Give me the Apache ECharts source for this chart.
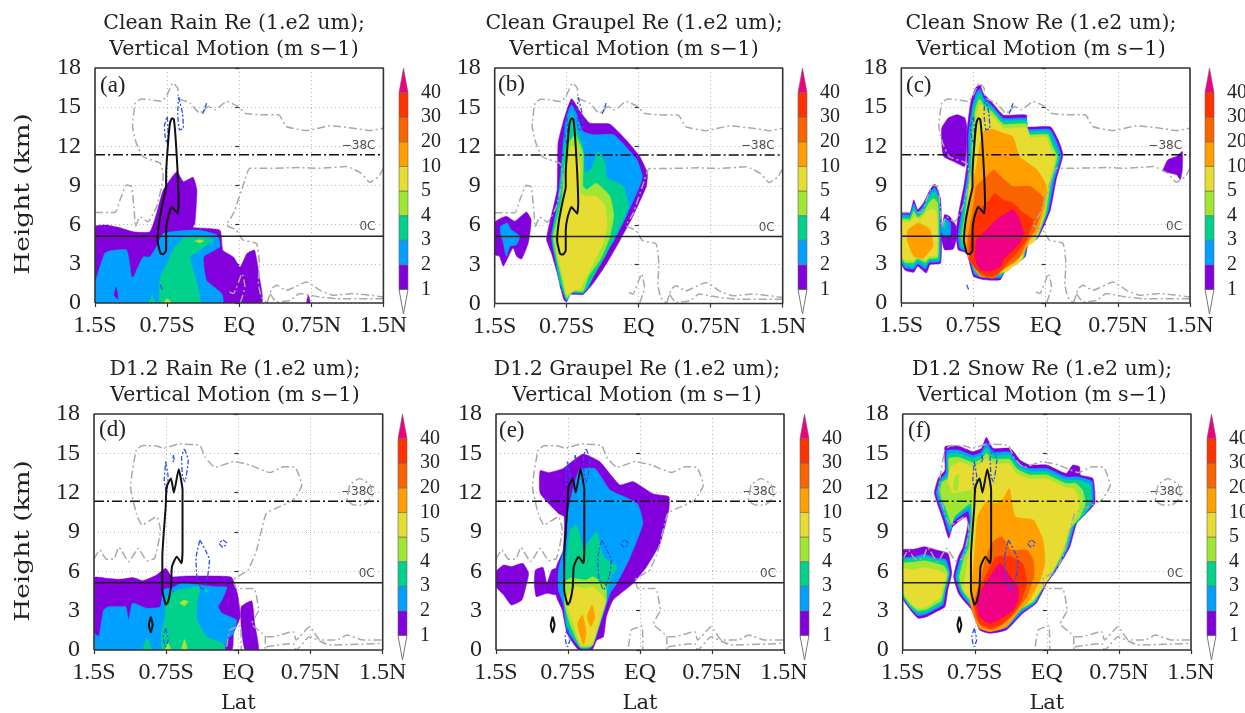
<!DOCTYPE html>
<html><head><meta charset="utf-8">
<style>html,body{margin:0;padding:0;background:#fff}#main{width:1245px;height:713px;filter:blur(0.35px)}</style>
<script src="https://cdn.jsdelivr.net/npm/echarts@6/dist/echarts.min.js"></script>
</head><body><div id="main"></div>
<script>
const latTicks=['1.5S','0.75S','EQ','0.75N','1.5N'];
const barLevels=['','1','2','3','4','5','10','20','30','40',''];
const levelColors=['#ffffff','#8200dc','#00a0ff','#00d28c','#a0e632','#e6dc32','#ffa000','#fa6400','#ff3200','#f00082'];
const titles=['Clean Rain Re (1.e2 um);','Clean Graupel Re (1.e2 um);','Clean Snow Re (1.e2 um);','D1.2 Rain Re (1.e2 um);','D1.2 Graupel Re (1.e2 um);','D1.2 Snow Re (1.e2 um);'];
const subtitle='Vertical Motion (m s−1)';
const tags=['(a)','(b)','(c)','(d)','(e)','(f)'];
const isoCold=11.35, isoZero=5.12;

// Cloud outline (latitude, km), upper row
const cloudTop=[[-1.5,6.94,-1.29,6.94,-1.24,7.89,-1.17,9.04,-1.12,8.91,-1.09,6.86,-1.08,5.84,-1.03,6.6,-.95,6.22,-.86,7.37,-.79,9.68,-.82,10.7,-1,11.2,-1.07,12.24,-1.11,13.52,-1.08,15.31,-1.02,15.62,-.93,15.57,-.81,15.44,-.75,15.95,-.69,16.85,-.64,16.46,-.63,15.69,-.51,15.31,-.41,14.54,-.32,15.05,-.25,14.8,-.13,15.44,-.01,15.05,.06,14.54,.25,14.41,.41,14.41,.49,13.52,.7,13.21,.95,13.57,1.19,13.39,1.36,13.21,1.5,13.39],
[1.5,10.32,1.45,9.68,1.36,9.24,1.27,9.93,1.12,10.45,.84,10.32,.63,10.37,.29,10.32,.11,10.32,.06,9.42,-.06,6.86,-.13,5.97,-.03,5.58,.04,4.81,.18,4.56,.21,3.02,.2,1.48,.23,.46,.29,0],
[.29,0,.34,1.1,.39,1.36,.49,.97,.7,1.61,.84,.97,.98,.59,1.19,.72,1.5,.46],
[.32,.72,.39,.08,.53,.2,.63,.72,.84,.46,1.01,.33,1.5,.33],
[-.1,.84,-.06,.72,.03,2.25,.06,1.23,.01,0]];
// Cloud outline, lower row
const cloudBottom=[[-1.5,6.92,-1.44,7.63,-1.37,6.92,-1.29,6.99,-1.24,7.83,-1.14,6.74,-1.04,7.75,-.95,6.81,-.87,6.99,-.81,9.15,-.85,10.17,-1,9.53,-1.06,10.42,-1.12,12.46,-1.06,15.26,-.99,15.59,-.85,15.56,-.78,15.38,-.62,15.71,-.4,15.59,-.35,14.75,-.24,13.93,-.05,14.37,.12,14.11,.33,13.53,.47,13.98,.59,13.93,.66,12.59,.57,11.44,.43,10.93,.29,10.42,.19,7.63,.1,6.1,-.05,5.34,-.02,4.7,.16,4.7,.21,3.05,.14,2,.28,1,.28,0],
[.29,1.02,.36,1.02,.57,1.4,.6,.76,.74,1.78,.85,.76,1.02,.76,1.13,1.14,1.3,.76,1.5,.76],
[.29,.25,.57,.5,.6,0,.64,.25,.74,1.02,.95,.38,1.5,.5],
[-.12,.25,-.09,1.53,.02,1.83,.03,0],
[1.14,11.95,1.16,12.59,1.26,13.09,1.37,12.59,1.39,11.7,1.3,11.06,1.2,11.06,1.13,11.44,1.14,11.95]];
// Updraft contour, black
const upTop=[[-.82,3.79,-.85,4.81,-.83,6.35,-.79,7.89,-.76,8.91,-.76,9.93,-.74,12.24,-.72,13.77,-.7,14.16,-.68,14.08,-.66,12.49,-.64,9.93,-.63,7.63,-.64,6.86,-.67,7.12,-.7,7.37,-.74,6.61,-.76,5.58,-.76,4.05,-.79,3.74,-.82,3.79]];
const upBottom=[[-.755,3.43,-.79,4.58,-.79,7.12,-.755,10.93,-.745,12.46,-.7,13.09,-.67,12,-.62,13.78,-.58,12.2,-.58,7.63,-.59,6.61,-.64,7.12,-.69,6.36,-.7,4.83,-.73,3.69,-.755,3.43],
[-.91,2.54,-.89,1.91,-.91,1.35,-.93,1.91,-.91,2.54]];
// Downdraft contour, blue
const downTop=[[-.78,13.52,-.75,14.29,-.74,13,-.75,12.19,-.77,12.75,-.78,13.52],
[-.63,15.77,-.59,14.54,-.58,13.39,-.62,13.26,-.64,14.54,-.63,15.77],
[-.38,14.49,-.34,15.31,-.36,14.8,-.38,14.49],
[-.82,1.4,-.8,1.0]];
const downBottom=[[-.755,14.37,-.73,13.22,-.745,11.95,-.77,12.97,-.755,14.37],
[-.675,14.87,-.665,14.37,-.68,14.4,-.675,14.87],
[-.56,15.33,-.52,14.49,-.555,12.84,-.58,13.22,-.59,14.75,-.56,15.33],
[-.4,8.39,-.3,6.86,-.32,5.59,-.38,4.58,-.43,5.59,-.44,6.99,-.4,8.39],
[-.16,8.39,-.12,8.14,-.16,7.83,-.2,8.14,-.16,8.39],
[-.755,1.65,-.73,.76,-.76,.25,-.78,1.02,-.755,1.65]];

// Filled contours: [level, lat, km, lat, km ...]
const fillsA=[
[1,-1.5,5.84,-1.38,5.97,-1.24,5.76,-1.1,5.45,-.93,5.45,-.86,6.86,-.79,8.65,-.65,10.06,-.58,9.3,-.48,9.63,-.44,8.65,-.46,6.1,-.48,5.79,-.2,5.58,-.17,4.05,-.06,3.53,.01,2.76,.08,3.79,.16,4.05,.21,2,.23,0,-1.5,0],
[1,.7,0,.72,.6,.74,0],
[2,-1.5,0,-1.5,1.48,-1.4,3.79,-1.34,4,-1.17,4.05,-1.12,2,-1.1,2,-1,3.53,-.93,3.53,-.86,4.3,-.79,5.32,-.61,5.53,-.41,5.58,-.23,5.2,-.2,4.3,-.37,3.53,-.34,1.74,-.18,.72,-.17,0],
[1,-1.28,1.2,-1.26,.3,-1.3,.6],
[3,-.82,0,-.82,2,-.75,3.02,-.69,4.05,-.58,4.94,-.37,5.02,-.27,4.81,-.41,4.05,-.51,3.53,-.44,1.48,-.41,0],
[3,-.93,0,-.91,.6,-.87,0],
[4,-.79,0,-.75,.33,-.7,0],
[4,-.46,4.75,-.41,4.85,-.37,4.75,-.41,4.6]];
const fillsB=[
[1,-1.5,6.21,-1.38,6.67,-1.29,6.29,-1.17,7,-1.12,6.41,-1.15,4.63,-1.22,3.4,-1.27,3.6,-1.31,4.25,-1.41,2.85,-1.45,3.6,-1.5,3.74],
[2,-1.44,5.9,-1.37,6.16,-1.33,5.65,-1.24,5.14,-1.27,4.5,-1.34,4.38,-1.38,3.6,-1.41,4.63,-1.44,5.39],
[1,-.96,4.89,-.92,6.41,-.85,8.7,-.84,12.26,-.78,14.05,-.7,15.65,-.61,14.68,-.51,13.79,-.3,13.71,-.13,12.5,.01,11.25,.09,9.97,.08,8.96,-.06,6.67,-.19,4.89,-.33,3.1,-.47,1.58,-.58,.69,-.72,.69,-.75,.1,-.78,.3,-.85,2.34,-.91,3.87],
[2,-.91,5.14,-.85,7.43,-.8,11,-.78,12.77,-.75,14.3,-.7,15.2,-.65,14.55,-.58,13.15,-.47,12.9,-.26,12.9,-.02,11,.04,9.7,.01,8.96,-.13,6.67,-.25,4.89,-.41,3.1,-.52,1.3,-.58,.8,-.7,.8,-.75,.18,-.82,1.58,-.87,3.36],
[3,-.9,5.14,-.83,7.94,-.79,11,-.75,13.03,-.7,14.55,-.63,12.98,-.58,12,-.56,9.97,-.49,10.35,-.42,11.6,-.35,10.73,-.33,9.59,-.16,8.96,-.11,7.43,-.16,6.41,-.23,5.39,-.35,3.6,-.51,1.6,-.58,.8,-.7,.85,-.75,.3,-.82,1.7,-.86,3.36],
[4,-.89,5.14,-.8,7.94,-.77,10.48,-.73,12.26,-.68,12.77,-.65,12.77,-.58,11.5,-.58,8.96,-.54,8.7,-.44,9.2,-.3,8.2,-.26,6.67,-.31,4.89,-.4,3.36,-.52,2.1,-.58,.94,-.68,.94,-.75,.43,-.8,1.83,-.85,3.36],
[5,-.85,5.14,-.79,7.94,-.75,10.48,-.7,12,-.66,12,-.61,10.48,-.61,8.45,-.54,8.2,-.44,8.2,-.35,7.43,-.33,5.9,-.37,4.63,-.47,3.1,-.58,1.58,-.61,1.07,-.66,1.07,-.75,.69,-.79,2.09,-.84,3.6]];
const fillsC=[
[1,-1.5,6.89,-1.41,6.89,-1.37,7.9,-1.33,7.15,-1.27,7.66,-1.2,8.69,-1.15,9.11,-1.09,7.9,-1.09,3.06,-1.2,2.94,-1.24,2.3,-1.33,2.81,-1.37,2.35,-1.46,2.5,-1.5,3.06],
[2,-1.5,6.75,-1.41,6.75,-1.37,7.6,-1.33,6.95,-1.27,7.45,-1.21,8.4,-1.15,8.85,-1.1,7.9,-1.1,3.2,-1.21,3.1,-1.25,2.6,-1.33,3,-1.37,2.6,-1.46,2.7,-1.5,3.2],
[3,-1.5,6.55,-1.41,6.55,-1.37,7.3,-1.33,6.75,-1.27,7.2,-1.21,8.1,-1.15,8.5,-1.11,7.8,-1.11,3.35,-1.21,3.25,-1.25,2.85,-1.33,3.2,-1.37,2.85,-1.46,2.9,-1.5,3.35],
[4,-1.5,6.4,-1.41,6.4,-1.37,7,-1.33,6.55,-1.27,6.9,-1.21,7.7,-1.16,8,-1.12,7.6,-1.12,3.5,-1.21,3.4,-1.25,3.1,-1.33,3.4,-1.37,3.1,-1.46,3.1,-1.5,3.5],
[5,-1.5,6.2,-1.41,6.2,-1.36,6.6,-1.3,6.4,-1.24,7,-1.17,7.2,-1.13,6.8,-1.13,3.6,-1.21,3.6,-1.25,3.3,-1.33,3.6,-1.37,3.3,-1.46,3.3,-1.5,3.7],
[6,-1.43,5.6,-1.32,6.13,-1.2,5.6,-1.17,4.34,-1.27,3.45,-1.37,3.57,-1.44,4.85],
[1,-1.08,5.36,-1.05,6.77,-1,6.64,-.93,5.87,-.93,4.85,-.96,4.14,-1.05,4.08,-1.08,4.85],
[2,-1.09,5.6,-1.05,6.5,-.99,6.13,-.99,5.23,-1.05,5.05],
[3,-1.07,6,-1.05,6.3,-1.03,6,-1.05,5.6],
[1,-1.08,13.4,-1.01,14.18,-.92,14.42,-.84,14.18,-.82,13.53,-.84,10.47,-.96,10.85,-1.06,11.23,-1.08,12.25],
[1,-.93,5.36,-.91,6.64,-.85,8.94,-.82,10.47,-.82,13,-.78,15.32,-.73,16.47,-.68,16.7,-.65,16.1,-.55,15.3,-.44,14.4,-.2,14.4,-.2,13.5,.05,13.5,.13,12.5,.18,11.36,.11,9.45,.05,7.15,-.02,5.87,-.08,5,-.18,4.6,-.21,3.57,-.3,3.06,-.4,2.81,-.47,1.79,-.65,1.79,-.75,2.04,-.82,3.83,-.91,4.08],
[2,-.91,5.2,-.88,6.6,-.83,8.9,-.8,10.5,-.8,12.9,-.76,15.1,-.72,16.1,-.68,16.4,-.65,15.8,-.55,15.05,-.44,14.15,-.2,14.15,-.19,13.3,.04,13.3,.11,12.4,.16,11.3,.09,9.4,.03,7.1,-.04,5.8,-.09,4.9,-.19,4.5,-.22,3.5,-.31,3,-.4,2.7,-.47,1.95,-.65,1.95,-.74,2.2,-.81,3.9,-.89,4.2],
[3,-.89,5.2,-.86,6.6,-.81,8.9,-.79,10.5,-.78,12.9,-.75,15,-.71,15.8,-.68,16,-.65,15.5,-.55,14.85,-.44,13.95,-.2,13.95,-.18,13.1,.03,13.1,.09,12.2,.14,11.25,.07,9.3,.02,7,-.05,5.7,-.1,4.9,-.2,4.4,-.23,3.45,-.32,2.9,-.4,2.6,-.47,2.1,-.65,2.1,-.74,2.4,-.8,4,-.87,4.3],
[4,-.87,5.2,-.84,6.6,-.8,8.9,-.77,10.5,-.76,12.9,-.73,14.8,-.7,15.5,-.68,15.6,-.65,15.2,-.55,14.6,-.44,13.7,-.2,13.7,-.17,12.9,.02,12.9,.07,12,.12,11.2,.05,9.2,0,6.9,-.06,5.6,-.11,4.8,-.21,4.3,-.24,3.4,-.33,2.85,-.4,2.5,-.47,2.25,-.65,2.25,-.73,2.55,-.79,4.1,-.85,4.4],
[5,-.85,5.2,-.82,6.6,-.79,8.9,-.75,10.5,-.74,12.7,-.71,14.6,-.69,15.1,-.67,15.2,-.65,14.9,-.55,14.3,-.44,13.4,-.2,13.4,-.16,12.7,0,12.7,.05,11.8,.1,11.15,.03,9.1,-.02,6.8,-.07,5.5,-.12,4.7,-.22,4.2,-.25,3.3,-.34,2.8,-.4,2.4,-.47,2.4,-.65,2.4,-.72,2.7,-.78,4.2,-.83,4.5],
[6,-.84,5.36,-.79,7.9,-.72,10.47,-.68,12.25,-.63,13.28,-.54,13.28,-.44,13,-.34,12.74,-.27,11.2,-.09,10.2,.01,8.94,-.01,7.4,-.09,5.36,-.16,4.85,-.23,3.83,-.32,3.06,-.4,2.8,-.54,2.04,-.68,2.04,-.77,3.06,-.82,3.83],
[7,-.81,4.85,-.75,7.4,-.72,8.94,-.61,9.7,-.54,10.2,-.47,9.7,-.34,8.94,-.16,8.94,-.02,8.04,-.06,6.64,-.11,5.62,-.2,4.6,-.27,3.57,-.35,3.06,-.44,2.55,-.54,1.9,-.68,2.15,-.75,3.06,-.81,3.96],
[8,-.79,4.34,-.75,5.87,-.72,6.9,-.58,7.9,-.53,8.4,-.44,7.9,-.34,7.66,-.23,6.9,-.13,6.38,-.16,5.62,-.2,4.85,-.3,3.83,-.4,3.06,-.51,2.17,-.61,2.04,-.72,2.55,-.79,3.32],
[9,-.73,3.32,-.72,4.85,-.61,5.62,-.51,6.38,-.34,7.15,-.27,6.38,-.23,5.36,-.27,4.6,-.37,3.83,-.44,3.32,-.47,2.81,-.58,2.43,-.68,2.55],
[1,1.22,10.2,1.27,10.98,1.36,11.23,1.42,11.6,1.42,10.2,1.4,9.45,1.36,9.83,1.22,10.08]];
const fillsD=[
[1,-1.5,5.52,-1.37,5.47,-1.23,5.39,-1.09,5.52,-.99,5.29,-.85,5.72,-.755,6.23,-.69,5.59,-.54,5.64,-.26,5.64,-.07,5.54,-.01,4.32,.02,2.54,-.05,1.27,-.07,0,-1.5,0],
[1,.03,3.3,.14,3.74,.17,2.03,.21,0,.07,0,.03,1.78],
[2,-1.5,0,-1.5,1.27,-1.45,1.02,-1.4,3.05,-1.35,3.3,-1.26,3.3,-1.17,3.3,-1.14,2.29,-1.1,3.56,-.95,3.18,-.81,3.3,-.78,4.58,-.68,4.78,-.59,5.09,-.23,4.83,-.12,4.78,-.17,3.81,-.21,3.3,-.17,2.8,-.02,2.29,-.05,1.27,-.12,.76,-.15,0],
[3,-.78,0,-.8,1.27,-.76,2.54,-.745,4.07,-.61,4.58,-.4,4.83,-.43,3.56,-.43,2.29,-.33,1.02,-.16,.51,-.14,0],
[3,-.99,0,-.95,.89,-.9,0],
[3,-.33,4.7,-.31,4.5,-.33,4.35,-.35,4.5],
[4,-.61,3.6,-.56,3.81,-.52,3.69,-.56,3.36],
[4,-.59,0,-.56,.81,-.53,0],
[4,-.76,0,-.73,.5,-.7,0]];
const fillsE=[
[1,-1.5,5.98,-1.42,6.48,-1.34,6.36,-1.22,6.61,-1.16,5.85,-1.18,5.09,-1.23,3.81,-1.34,3.43,-1.42,4.2,-1.5,4.83],
[1,-1.09,6.1,-1.01,6.3,-.97,5.09,-.92,6.1,-.87,6.23,-.85,4.2,-.97,4.32,-1.08,4.07,-1.1,5.09],
[1,-1.04,13.68,-.95,13.53,-.8,13.85,-.69,14.49,-.59,14.95,-.42,14.37,-.21,12.59,-.07,12.84,.14,11.9,.3,11.7,.3,10.68,.21,8.14,.07,6.36,-.07,5.09,-.28,3.81,-.35,2.54,-.38,1.02,-.45,.76,-.5,0,-.64,0,-.76,1.27,-.81,3.05,-.87,4.07,-.87,6.36,-.8,7.63,-.79,10.17,-.85,10.42,-1.04,11.95],
[2,-.76,10.17,-.7,12.2,-.63,13.73,-.47,13.85,-.31,12.2,-.03,11.19,.03,9.66,-.1,7.12,-.24,5.09,-.31,4.32,-.38,2.8,-.47,.76,-.52,.13,-.62,.13,-.76,1.53,-.8,3.56,-.85,4.58,-.85,6.1,-.76,8.65],
[3,-.78,5.59,-.76,7.12,-.73,9.15,-.66,9.53,-.59,7.76,-.52,8.4,-.45,9.03,-.38,7.12,-.24,6.36,-.3,5.59,-.35,4.32,-.42,2.54,-.49,.51,-.52,.18,-.62,.18,-.75,1.78,-.78,3.56],
[4,-.79,5.09,-.73,5.47,-.56,5.34,-.49,5.59,-.36,4.83,-.35,3.81,-.42,2.03,-.49,.38,-.52,.25,-.62,.25,-.73,2.03,-.78,3.3],
[5,-.76,4.07,-.69,4.83,-.56,4.7,-.49,4.83,-.4,4.2,-.36,3.69,-.42,2.29,-.49,.64,-.53,.38,-.61,.38,-.71,2.29,-.76,3.3],
[6,-.5,3.43,-.47,2.54,-.51,1.78,-.55,2.54],
[6,-.6,2.67,-.56,1.27,-.59,.38,-.64,1.53,-.65,2.03]];
const fillsF=[
[1,-1.5,7.63,-1.39,7.68,-1.27,7.88,-1.15,7.63,-1.03,7.37,-.99,5.85,-1.03,4.58,-1.06,3.3,-1.15,2.92,-1.25,2.54,-1.34,2.42,-1.42,3.05,-1.5,3.94],
[2,-1.5,7,-1.39,7.1,-1.27,7.3,-1.15,7,-1.05,6.9,-1.01,5.85,-1.05,4.6,-1.08,3.45,-1.16,3.1,-1.25,2.75,-1.34,2.62,-1.42,3.2,-1.5,4.1],
[3,-1.5,6.85,-1.39,6.95,-1.27,7.1,-1.15,6.85,-1.06,6.7,-1.02,5.85,-1.06,4.6,-1.09,3.6,-1.16,3.25,-1.25,2.9,-1.34,2.8,-1.42,3.3,-1.5,4.2],
[4,-1.5,6.6,-1.39,6.7,-1.27,6.8,-1.15,6.6,-1.07,6.4,-1.03,5.85,-1.07,4.6,-1.1,3.75,-1.17,3.45,-1.25,3.1,-1.34,3,-1.42,3.45,-1.5,4.3],
[5,-1.5,6.2,-1.39,6.1,-1.27,6.3,-1.15,6.1,-1.08,5.9,-1.05,5.7,-1.09,4.6,-1.12,3.9,-1.18,3.7,-1.25,3.3,-1.34,3.2,-1.42,3.65,-1.5,4.5],
[1,-.97,5.59,-.92,7.12,-.87,7.88,-.82,9.66,-.84,10.17,-.98,9.4,-1.02,8.52,-1.08,9.92,-1.17,11.95,-1.13,13.1,-1.06,13.73,-1.06,15.51,-.92,15.56,-.77,15.13,-.68,15.38,-.63,16.22,-.56,15.38,-.38,15.38,-.28,14.49,-.18,14.11,0,14.11,.2,13.47,.27,14.11,.34,13.98,.35,13.35,.48,13.09,.5,11.19,.41,10.42,.31,9.66,.24,7.88,.1,6.1,0,5.09,-.11,3.56,-.25,2.8,-.42,1.53,-.59,1.27,-.7,1.53,-.78,3.05,-.87,3.81,-.92,4.32],
[2,-.95,5.59,-.9,7,-.85,7.9,-.8,9.8,-.82,10.6,-.98,9.75,-1.01,8.9,-1.07,10.2,-1.15,11.95,-1.11,13,-1.05,13.5,-1.04,15.2,-.92,15.25,-.77,14.85,-.68,15.1,-.63,15.8,-.56,15.1,-.39,15.1,-.29,14.2,-.18,13.85,0,13.85,.2,13.2,.33,13.2,.47,12.85,.48,11.2,.39,10.3,.29,9.55,.22,7.8,.08,6,-.02,5,-.12,3.6,-.26,2.9,-.42,1.7,-.59,1.45,-.69,1.7,-.77,3.15,-.86,3.95,-.9,4.4],
[3,-.93,5.59,-.88,7,-.83,7.9,-.79,9.9,-.8,10.9,-.97,10,-1,9.2,-1.06,10.5,-1.13,11.95,-1.1,12.9,-1.03,13.3,-1.03,14.9,-.92,15,-.77,14.6,-.68,14.85,-.63,15.4,-.56,14.85,-.39,14.85,-.3,14,-.18,13.6,0,13.6,.2,12.95,.33,12.95,.45,12.6,.46,11.2,.37,10.2,.27,9.45,.2,7.7,.06,5.9,-.03,4.9,-.13,3.65,-.27,3,-.42,1.85,-.59,1.6,-.68,1.85,-.76,3.25,-.85,4.05,-.89,4.5],
[4,-.91,5.59,-.86,7,-.81,7.9,-.78,10,-.79,11.2,-.96,10.2,-.99,9.6,-1.05,10.8,-1.11,11.95,-1.09,12.8,-1.02,13.1,-1.02,14.6,-.92,14.7,-.77,14.3,-.68,14.55,-.63,15,-.56,14.55,-.39,14.55,-.31,13.8,-.18,13.35,0,13.35,.2,12.7,.3,12.7,.37,12.2,.4,11.2,.34,10.1,.25,9.3,.18,7.6,.05,5.8,-.04,4.8,-.14,3.7,-.28,3.1,-.42,2,-.59,1.75,-.67,2,-.75,3.35,-.84,4.15,-.88,4.6],
[5,-.85,5.59,-.82,7,-.79,8,-.77,10.2,-.78,12.2,-.88,12.1,-.98,12,-1.03,12.9,-1,14,-.9,14.3,-.77,14,-.68,14.2,-.63,14.6,-.56,14.2,-.39,14.2,-.32,13.5,-.18,13.05,0,13.05,.2,12.4,.28,12.3,.33,11.5,.33,10.7,.23,9.2,.16,7.5,.04,5.7,-.05,4.7,-.15,3.75,-.29,3.2,-.42,2.15,-.59,1.9,-.66,2.15,-.74,3.45,-.83,4.25,-.87,4.7],
[4,-.97,12.2,-.93,12.2,-.92,13.4,-.96,13.2],
[6,-.78,5.09,-.75,7.63,-.72,10.17,-.63,11.3,-.52,11.19,-.45,11.57,-.39,12.33,-.33,10.17,-.14,9.92,-.04,8.39,-.02,6.61,-.07,5.34,-.18,3.81,-.28,3.05,-.42,1.78,-.59,1.4,-.7,1.65,-.77,2.8,-.8,3.81],
[7,-.77,3.31,-.7,5.09,-.63,7.12,-.56,8.26,-.47,8.64,-.37,7.63,-.21,7.63,-.14,6.86,-.135,5.59,-.21,4.07,-.32,2.92,-.42,2.16,-.56,1.53,-.68,1.78,-.75,2.54],
[8,-.75,3.31,-.7,4.58,-.59,6.36,-.52,7.12,-.38,7.12,-.25,6.61,-.21,5.09,-.28,3.56,-.38,2.54,-.49,1.9,-.59,1.65,-.7,2.03],
[9,-.73,3.56,-.68,4.58,-.59,5.59,-.49,6.61,-.38,5.59,-.3,4.83,-.3,3.81,-.35,3.05,-.45,2.54,-.59,2.03,-.7,2.54]];

const panels=[
 {fills:fillsA,cloud:cloudTop,up:upTop,down:downTop,box:[95,68,288.4,235],tag:[100,74],cx:234,ty:10,bar:399},
 {fills:fillsB,cloud:cloudTop,up:upTop,down:downTop,box:[494.7,68,288,235.5],tag:[498,73],cx:634,ty:10,bar:798},
 {fills:fillsC,cloud:cloudTop,up:upTop,down:downTop,box:[901.3,68,288.7,235],tag:[906,74],cx:1041,ty:10,bar:1205},
 {fills:fillsD,cloud:cloudBottom,up:upBottom,down:downBottom,box:[94,414,288.7,236],tag:[99,418],cx:235,ty:356,bar:398},
 {fills:fillsE,cloud:cloudBottom,up:upBottom,down:downBottom,box:[496,414,288,236],tag:[499,419],cx:637,ty:356,bar:800},
 {fills:fillsF,cloud:cloudBottom,up:upBottom,down:downBottom,box:[902.7,414,288.3,236],tag:[908,419],cx:1042,ty:356,bar:1207}];

const pairs=f=>{const p=[];for(let i=0;i<f.length;i+=2)p.push([f[i],f[i+1]]);return p;};
const serif='"DejaVu Serif"', tick='"Liberation Serif"';
const gridLine={show:true,lineStyle:{type:[1,3],color:'#b4b4b4',width:1}};
const option={animation:false,backgroundColor:'#fff',title:[],grid:[],xAxis:[],yAxis:[],series:[],graphic:[]};
panels.forEach((p,i)=>{
  const left=i%3===0, bottom=i>=3;
  option.grid.push({left:p.box[0],top:p.box[1],width:p.box[2],height:p.box[3],containLabel:false,outerBoundsMode:'none'});
  option.xAxis.push({type:'value',gridIndex:i,min:-1.5,max:1.5,interval:.75,
    name:bottom?'Lat':'',nameLocation:'middle',nameGap:43,nameTextStyle:{fontFamily:serif,fontSize:21,color:'#222'},
    axisLine:{show:false},axisTick:{length:4,lineStyle:{color:'#333',width:1.2}},
    axisLabel:{fontFamily:tick,fontSize:24,color:'#222',margin:11,formatter:v=>latTicks[Math.round((v+1.5)/.75)]},
    splitLine:gridLine});
  option.yAxis.push({type:'value',gridIndex:i,min:0,max:18,interval:3,
    axisLine:{show:false},axisTick:{length:4,lineStyle:{color:'#333',width:1.2}},
    axisLabel:{fontFamily:tick,fontSize:24,color:'#222',margin:14},
    splitLine:gridLine});
  if(left) option.graphic.push({type:'text',x:24,y:bottom?541:194,rotation:Math.PI/2,scaleX:1.32,scaleY:1,
    style:{text:'Height (km)',fontFamily:serif,fontSize:20,fill:'#222',align:'center',verticalAlign:'middle'}});
  option.title.push({text:titles[i]+'\n'+subtitle,left:p.cx,top:p.ty,padding:0,textAlign:'center',
    textStyle:{fontFamily:serif,fontWeight:'normal',fontSize:20.5,lineHeight:26.7,color:'#222'}});
  option.title.push({text:tags[i],left:p.tag[0],top:p.tag[1],padding:0,textStyle:{fontFamily:tick,fontWeight:'normal',fontSize:23,color:'#222'}});
  const base={xAxisIndex:i,yAxisIndex:i,silent:true};
  option.series.push({...base,type:'custom',coordinateSystem:'cartesian2d',clip:true,
    data:p.fills.map((f,k)=>[f[1],f[2],k]),
    renderItem:(params,api)=>{const f=p.fills[params.dataIndex];
      return {type:'polygon',shape:{points:pairs(f.slice(1)).map(q=>api.coord(q)),smooth:0.15},
        style:{fill:levelColors[f[0]],stroke:levelColors[f[0]],lineWidth:.5}};}});
  const line=(pts,color,width,type)=>option.series.push({...base,type:'line',data:pairs(pts),symbol:'none',smooth:0.15,
    lineStyle:{color,width,type}});
  p.cloud.forEach(c=>line(c,'#a9a9a9',1.5,[8,3,2,3]));
  p.down.forEach(c=>line(c,'#2a50f0',1.3,[5,2,2,2]));
  p.up.forEach(c=>line(c,'#111',2,'solid'));
  option.series.push({...base,type:'line',symbol:'none',lineStyle:{color:'#111',width:1.5,type:[10,3,2,3]},data:[[-1.5,isoCold],[1.5,isoCold]]});
  option.series.push({...base,type:'line',symbol:'none',lineStyle:{color:'#222',width:1.5},data:[[-1.5,isoZero],[1.5,isoZero]]});
  const isoLabel={show:true,position:'left',offset:[0,-9],fontFamily:'"DejaVu Sans"',fontSize:12,color:'#222'};
  option.series.push({...base,type:'scatter',symbolSize:4,itemStyle:{color:'rgba(0,0,0,0)'},
    data:[{value:[1.49,isoCold],label:{...isoLabel,formatter:'−38C'}},{value:[1.49,isoZero],label:{...isoLabel,formatter:'0C'}}]});
  option.series.push({...base,type:'line',symbol:'none',clip:false,z:6,lineStyle:{color:'#333',width:1.6},
    data:[[-1.5,0],[1.5,0],[1.5,18],[-1.5,18],[-1.5,0]]});
});
panels.forEach((p,i)=>{
  const g=i+6;
  option.grid.push({left:p.bar,top:p.box[1],width:9,height:246,containLabel:false,outerBoundsMode:'none'});
  option.xAxis.push({type:'value',gridIndex:g,min:0,max:1,show:false});
  option.yAxis.push({type:'value',gridIndex:g,min:0,max:10,interval:1,position:'right',
    axisLine:{show:false},axisTick:{show:false},splitLine:{show:false},
    axisLabel:{fontFamily:tick,fontSize:20,color:'#222',margin:13,align:'left',formatter:v=>barLevels[v]}});
  option.series.push({type:'custom',coordinateSystem:'cartesian2d',xAxisIndex:g,yAxisIndex:g,silent:true,clip:false,
    data:levelColors.map((c,k)=>[.5,k+.5]),
    renderItem:(params,api)=>{const k=params.dataIndex;
      const q=k===0?[[0,1],[1,1],[.5,0]]:k===9?[[0,9],[1,9],[.5,10]]:[[0,k],[1,k],[1,k+1],[0,k+1]];
      return {type:'polygon',shape:{points:q.map(v=>api.coord(v))},style:{fill:levelColors[k],stroke:k===0?'#777':'#666',lineWidth:k===0?1:.6}};}});
});
const chart=echarts.init(document.getElementById('main'),null,{renderer:'canvas'});
chart.setOption(option);
</script></body></html>
